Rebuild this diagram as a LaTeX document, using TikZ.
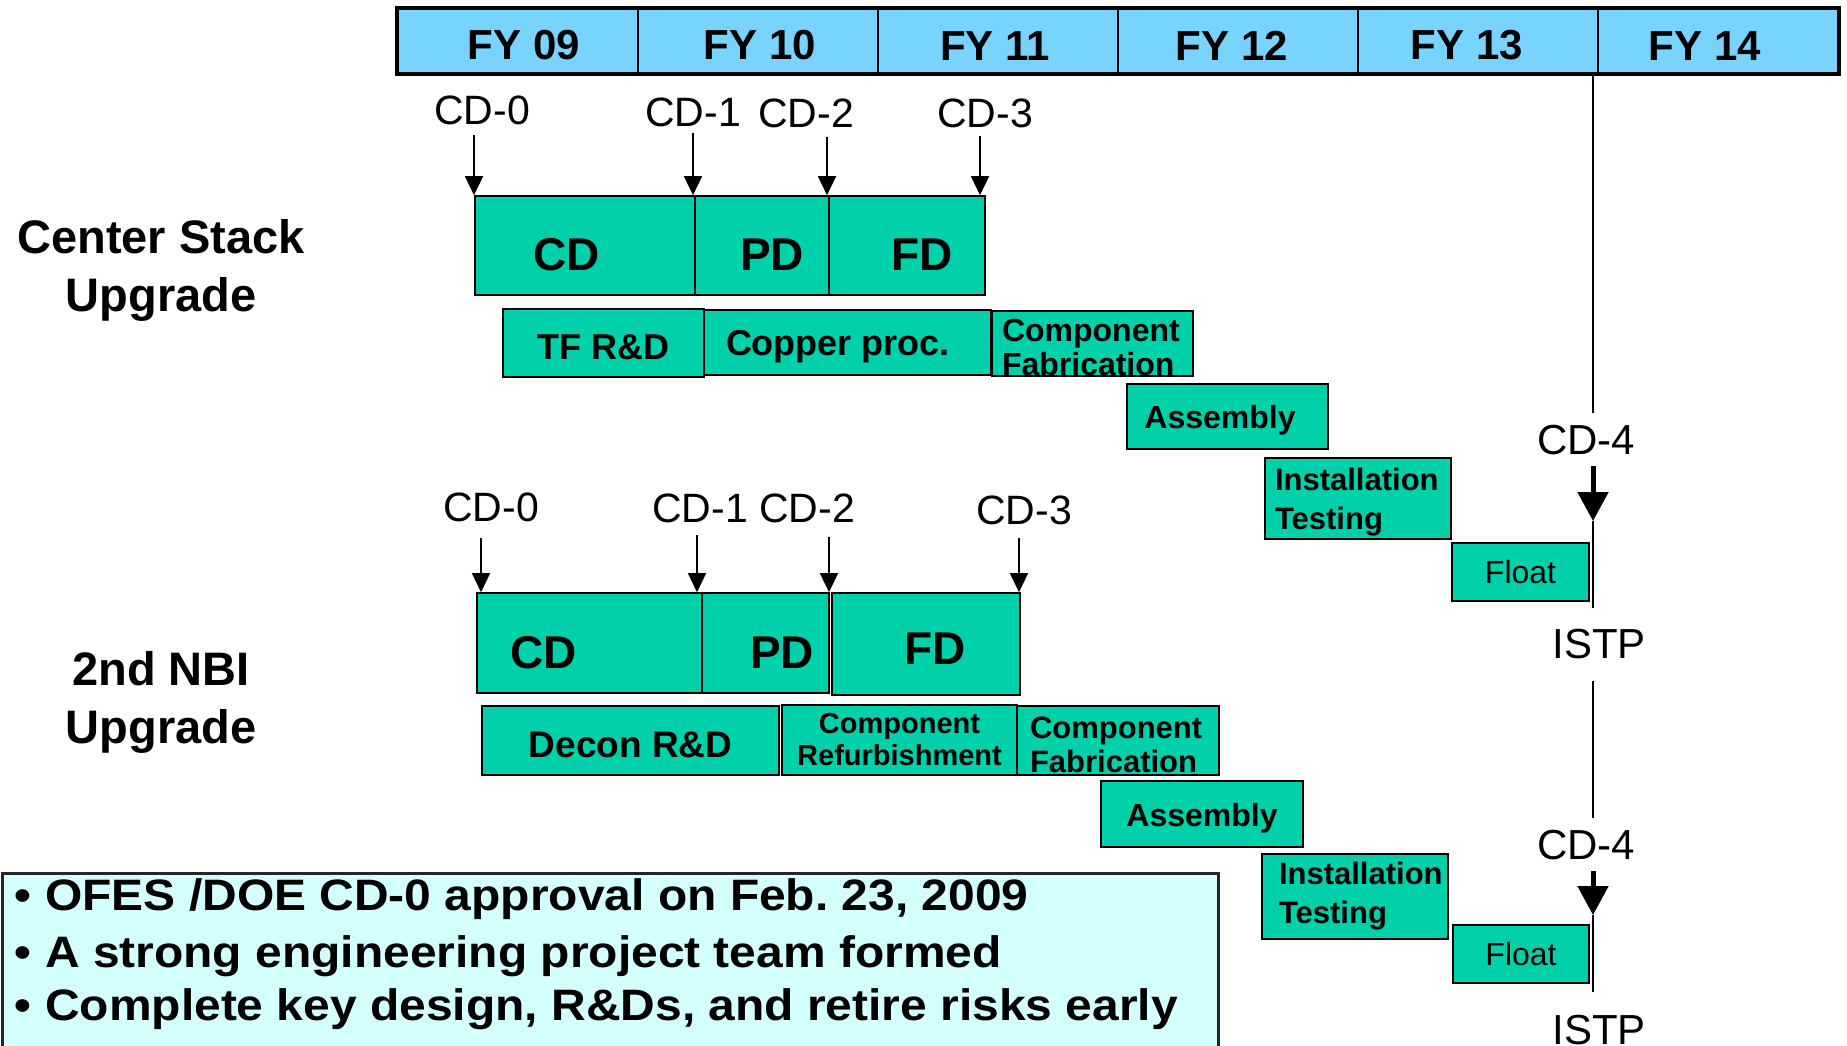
\documentclass[tikz,border=0pt]{standalone}
\usepackage{fontspec}
\setmainfont{Liberation Sans}
\usepackage{tikz}
\usetikzlibrary{arrows.meta}
\definecolor{yearblue}{RGB}{120,212,255}
\definecolor{taskgreen}{RGB}{0,209,170}
\definecolor{noteblue}{RGB}{212,255,255}
\newcommand{\fsz}[2]{\fontsize{#1}{#2}\selectfont}
\newcommand{\noteline}[1]{\scalebox{1.09}[1]{\textbullet\hspace{13pt}#1}}

\begin{document}
\begin{tikzpicture}[x=1pt, y=-1pt]
\tikzstyle{sunk}=[execute at begin node={\rule{0pt}{\dimexpr0.74em+7pt\relax}}]
\tikzstyle{year}=[rectangle, draw, line width=2pt, fill=yearblue, minimum width=240pt, minimum height=64pt, inner sep=0pt, sunk, font=\fsz{42}{48}\bfseries]
\tikzstyle{phase}=[rectangle, draw, line width=1.6pt, fill=taskgreen, inner sep=0pt, text height=50pt, text depth=0pt, font=\fsz{46}{50}\bfseries]
\tikzstyle{task}=[rectangle, draw, line width=1.6pt, fill=taskgreen, inner sep=0pt]
\tikzstyle{mile}=[inner sep=0pt, font=\fsz{41}{48}]
\tikzstyle{tick}=[line width=1.4pt, -{Triangle[length=19pt, width=18pt]}]
\tikzstyle{bigtick}=[line width=5pt, -{Triangle[length=29pt, width=30pt]}]
\tikzstyle{rule}=[line width=1.8pt]
\tikzstyle{note}=[inner sep=0pt, anchor=base west, font=\fsz{44}{55}\bfseries]
\useasboundingbox (0,0) rectangle (1847,1045);

% fiscal years
\node[year] (fy09) at (518,41) {\hspace*{12pt}FY 09};
\node[year] (fy10) at (758,41) {\hspace*{4pt}FY 10};
\node[year] (fy11) at (998,41) {FY 11\hspace*{6pt}};
\node[year] (fy12) at (1238,41) {FY 12\hspace*{12pt}};
\node[year] (fy13) at (1478,41) {FY 13\hspace*{22pt}};
\node[year] (fy14) at (1718,41) {FY 14\hspace*{26pt}};
\draw[line width=3.5pt] (fy09.north west) rectangle (fy14.south east);

\node[align=center, font=\fsz{47}{58}\bfseries] (csu) at (161,270) {Center Stack\\Upgrade};
\node[align=center, font=\fsz{47}{58}\bfseries] (nbi) at (161,702) {2nd NBI\\Upgrade};

% center stack
\node[mile] (c0) at (482,110) {CD-0};
\node[mile] (c1) at (693,112) {CD-1};
\node[mile] (c2) at (806,113) {CD-2};
\node[mile] (c3) at (985,113) {CD-3};
\node[phase, minimum width=220pt, minimum height=99pt] (cd) at (585,245.5) {CD\hspace*{36pt}};
\node[phase, minimum width=134pt, minimum height=99pt] (pd) at (762,245.5) {\hspace*{20pt}PD};
\node[phase, minimum width=156pt, minimum height=99pt] (fd) at (907,245.5) {\hspace*{30pt}FD};
\coordinate (t0) at (474,135);
\coordinate (t1) at (693,133);
\coordinate (t2) at (827,137);
\coordinate (t3) at (980,136);
\draw[tick] (t0) -- (t0 |- cd.north);
\draw[tick] (t1) -- (t1 |- cd.north);
\draw[tick] (t2) -- (t2 |- pd.north);
\draw[tick] (t3) -- (t3 |- fd.north);

\node[task, sunk, minimum width=201pt, minimum height=68pt, font=\fsz{36}{40}\bfseries] (tfrd) at (603.5,343) {TF R\&D};
\node[task, sunk, minimum width=287pt, minimum height=65pt, font=\fsz{36}{40}\bfseries] (cu) at (847.5,342.5) {Copper proc.\hspace*{19pt}};
\node[task, sunk, minimum width=201pt, minimum height=65pt, align=left, text width=181pt, font=\fsz{32}{34}\bfseries] (fab1) at (1092.5,343.5) {Component\\Fabrication};
\node[task, sunk, minimum width=201pt, minimum height=65pt, font=\fsz{32}{34}\bfseries] (asm1) at (1227.5,416.5) {Assembly\hspace*{15pt}};
\node[task, sunk, minimum width=186pt, minimum height=81pt, align=left, text width=166pt, font=\fsz{31}{39}\bfseries] (inst1) at (1358,498.5) {Installation\\Testing};
\node[task, minimum width=137pt, minimum height=58pt, font=\fsz{32}{34}] (fl1) at (1520.5,572) {Float};

% 2nd NBI
\node[mile] (n0) at (491,507) {CD-0};
\node[mile] (n1) at (700,508) {CD-1};
\node[mile] (n2) at (807,508) {CD-2};
\node[mile] (n3) at (1024,510) {CD-3};
\node[phase, minimum width=225pt, minimum height=100pt] (ncd) at (589.5,643) {CD\hspace*{91pt}};
\node[phase, minimum width=127pt, minimum height=100pt] (npd) at (765.5,643) {\hspace*{33pt}PD};
\node[phase, minimum width=188pt, minimum height=102pt, text height=40pt] (nfd) at (926,644) {\hspace*{18pt}FD};
\coordinate (s0) at (481,538);
\coordinate (s1) at (697,535);
\coordinate (s2) at (829,537);
\coordinate (s3) at (1019,538);
\draw[tick] (s0) -- (s0 |- ncd.north);
\draw[tick] (s1) -- (s1 |- ncd.north);
\draw[tick] (s2) -- (s2 |- npd.north);
\draw[tick] (s3) -- (s3 |- nfd.north);

\node[task, sunk, minimum width=297pt, minimum height=69pt, font=\fsz{37}{40}\bfseries] (dec) at (630.5,740.5) {Decon R\&D};
\node[task, sunk, minimum width=235pt, minimum height=70pt, align=center, font=\fsz{29}{32}\bfseries] (refb) at (899.5,740) {Component\\Refurbishment};
\node[task, sunk, minimum width=202pt, minimum height=69pt, align=left, text width=176pt, font=\fsz{31}{34}\bfseries] (fab2) at (1118,740.5) {Component\\Fabrication};
\node[task, sunk, minimum width=202pt, minimum height=66pt, font=\fsz{32}{34}\bfseries] (asm2) at (1202,814) {Assembly};
\node[task, minimum width=186pt, minimum height=85pt, align=left, text width=152pt, font=\fsz{31}{39}\bfseries] (inst2) at (1355,896.5) {Installation\\Testing};
\node[task, minimum width=136pt, minimum height=58pt, font=\fsz{32}{34}] (fl2) at (1521,954) {Float};

% completion line
\node[mile, font=\fsz{42}{48}] (cd4a) at (1586,440) {CD-4};
\node[mile, font=\fsz{42}{48}] (istp1) at (1599,644) {ISTP};
\node[mile, font=\fsz{42}{48}] (cd4b) at (1586,845) {CD-4};
\node[mile, font=\fsz{42}{48}] (istp2) at (1599,1030) {ISTP};
\coordinate (v1) at (1593,74);
\coordinate (v2) at (1593,413);
\coordinate (v3) at (1593,466);
\coordinate (v4) at (1593,521);
\coordinate (v5) at (1593,608);
\coordinate (v6) at (1593,681);
\coordinate (v7) at (1593,818);
\coordinate (v8) at (1593,871);
\coordinate (v9) at (1593,915);
\coordinate (v10) at (1593,992);
\draw[rule] (v1) -- (v2);
\draw[bigtick] (v3) -- (v4);
\draw[rule] (v4) -- (v5);
\draw[rule] (v6) -- (v7);
\draw[bigtick] (v8) -- (v9);
\draw[rule] (v9) -- (v10);

% notes
\node[draw=black!85, line width=2.5pt, fill=noteblue, anchor=north west, minimum width=1216pt, minimum height=200pt, inner sep=0pt] (panel) at (1.25,872) {};
\node[note] (b1) at (14,910) {\noteline{OFES /DOE CD-0 approval on Feb.~23, 2009}};
\node[note] (b2) at (14,967) {\noteline{A strong engineering project team formed}};
\node[note] (b3) at (14,1020) {\noteline{Complete key design, R\&Ds, and retire risks early}};

\end{tikzpicture}
\end{document}
